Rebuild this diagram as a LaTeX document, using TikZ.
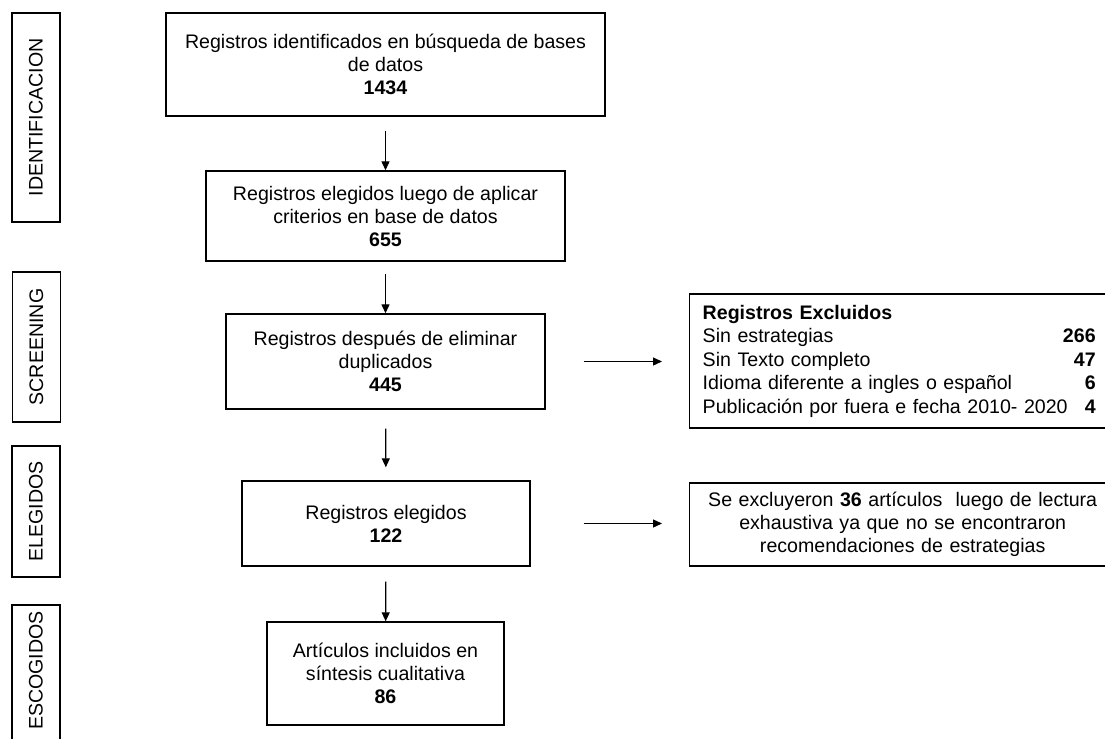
\documentclass[tikz,border=0pt]{standalone}
\usepackage{fontspec}
\setmainfont{Liberation Sans}
\usetikzlibrary{arrows.meta}

\begin{document}
\begin{tikzpicture}[x=0.5pt,y=-0.5pt,
    every node/.style={font=\fontsize{9.8}{11.5}\selectfont},
    box/.style={draw,line width=0.7pt,align=center,inner sep=0pt},
    side/.style={draw,line width=0.7pt,rotate=90,minimum height=24pt,inner sep=0pt},
    arr/.style={-{Triangle[length=4.5pt,width=4pt]},line width=0.65pt}]
  \useasboundingbox (0,0) rectangle (1105,739);
  \clip (0,0) rectangle (1105,739);
  % fases
  \node[side,minimum width=104.5pt] (ident) at (36,117.5) {IDENTIFICACION};
  \node[side,minimum width=75pt] (screen) at (36.5,347) {SCREENING};
  \node[side,minimum width=65.5pt] (eleg) at (36,511.5) {ELEGIDOS};
  \node[side,minimum width=80pt] (escog) at (36,685) {\hspace*{14.5pt}ESCOGIDOS};
  % flujo principal
  \node[box,minimum width=219.5pt,minimum height=51.5pt] (busq) at (385.5,64.5)
    {Registros identificados en búsqueda de bases\\de datos\\\textbf{1434}};
  \node[box,minimum width=179.5pt,minimum height=45pt] (crit) at (385.5,216)
    {Registros elegidos luego de aplicar\\criterios en base de datos\\\textbf{655}};
  \node[box,minimum width=159.5pt,minimum height=47.5pt] (dupl) at (385.5,361.5)
    {Registros después de eliminar\\duplicados\\\textbf{445}};
  \node[box,minimum width=144pt,minimum height=42.5pt] (elegidos) at (386,523.5)
    {Registros elegidos\\\textbf{122}};
  \node[box,minimum width=118.5pt,minimum height=51.5pt] (incl) at (385.5,673.5)
    {Artículos incluidos en\\síntesis cualitativa\\\textbf{86}};
  % excluidos
  \node[box,align=left,text width=196.5pt,inner xsep=6.5pt,minimum height=67pt,
        anchor=west,font=\fontsize{9.8}{11.75}\selectfont] (excl) at (689,361)
    {\textbf{Registros Excluidos}\\
     Sin estrategias\hfill\textbf{266}\\
     Sin Texto completo\hfill\textbf{47}\\
     Idioma diferente a ingles o español\hfill\textbf{6}\\
     Publicación por fuera e fecha 2010- 2020\hfill\textbf{4}};
  \node[box,text width=200pt,inner xsep=6.5pt,minimum height=41.5pt,anchor=west] (lect) at (689,524.5)
    {Se excluyeron \textbf{36} artículos~ luego de lectura\\exhaustiva ya que no se encontraron\\recomendaciones de estrategias};
  % flechas
  \draw[arr,shorten <=7pt] (busq) -- (crit);
  \draw[arr,shorten <=6pt] (crit) -- (dupl);
  \draw[arr,shorten <=9.5pt,shorten >=6.5pt] (dupl) -- (elegidos);
  \draw[arr,shorten <=7.5pt] (elegidos) -- (incl);
  \draw[arr,shorten <=19pt,shorten >=13.5pt] (dupl.east) -- (dupl.east -| excl.west);
  \draw[arr,shorten <=26.5pt,shorten >=13.5pt] (elegidos.east) -- (elegidos.east -| lect.west);
\end{tikzpicture}
\end{document}
